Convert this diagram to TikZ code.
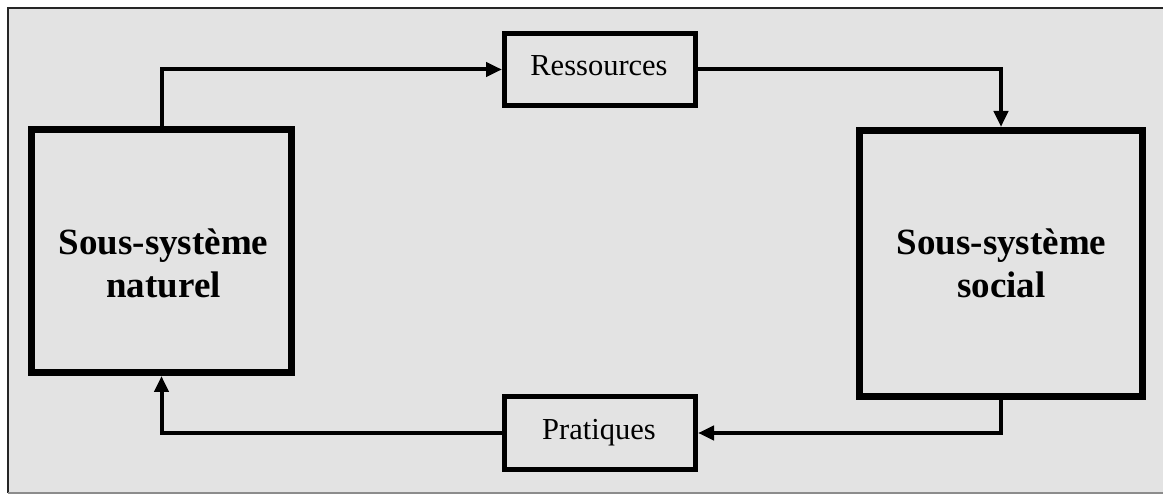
\documentclass[tikz,border=0pt]{standalone}
\usepackage{fontspec}
\setmainfont{Liberation Serif}
\usetikzlibrary{arrows.meta}
\definecolor{bg}{HTML}{E3E3E3}
\tikzset{
  bigbox/.style={draw=black, line width=7pt, fill=bg, inner sep=0pt},
  smallbox/.style={draw=black, line width=5pt, fill=bg, inner sep=0pt, minimum width=191pt, minimum height=72pt},
  bigtext/.style={font=\fontsize{37}{43}\selectfont\bfseries, anchor=base, inner sep=0pt},
  smalltext/.style={font=\fontsize{30.5}{36}\selectfont, anchor=base, inner sep=0pt},
  link/.style={line width=4pt, -{Triangle[length=16pt,width=14pt]}}
}
\begin{document}
\begin{tikzpicture}[x=1pt,y=-1pt]
\useasboundingbox (0,0) rectangle (1163,494);
\fill[white] (0,0) rectangle (1163,494);
\fill[bg] (8,8) rectangle (1163,493);
\draw[line width=2pt, black!85] (1163,8) -- (8,8) -- (8,493);
\draw[line width=1.5pt, black!45] (8,493) -- (1163,493);
% boxes
\node[bigbox, minimum width=260pt, minimum height=243pt] (L) at (161.5,251) {};
\node[bigbox, minimum width=283pt, minimum height=266pt] (S) at (1001,263.5) {};
\node[smallbox] (R) at (600,69.5) {};
\node[smallbox] (P) at (600,433) {};
% texts
\node[bigtext] (L1) at (163.5,255) {Sous-système};
\node[bigtext] (L2) at (163.5,298) {naturel};
\node[bigtext] (S1) at (1001.5,255) {Sous-système};
\node[bigtext] (S2) at (1001.5,298) {social};
\node[smalltext] (Rt) at (599,76) {Ressources};
\node[smalltext] (Pt) at (599,440) {Pratiques};
% connectors
\draw[link] (L.north) |- (R.west);
\draw[link] (R.east) -| (S.north);
\draw[link] (S.south) |- (P.east);
\draw[link] (P.west) -| (L.south);
\end{tikzpicture}
\end{document}
